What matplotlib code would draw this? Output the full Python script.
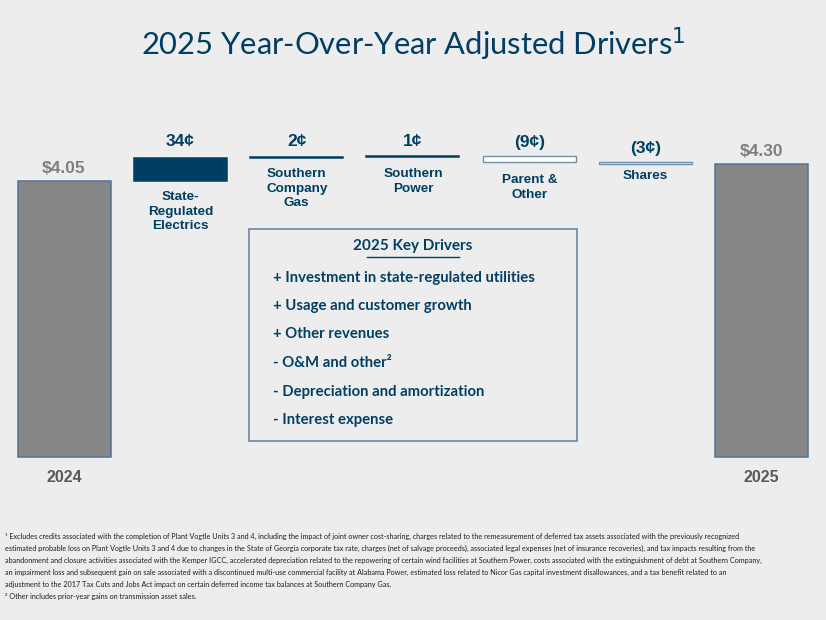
import numpy as np
import matplotlib.pyplot as plt
from matplotlib.patches import Rectangle

# data ($ per share)
start_label = '2024'
end_label = '2025'
start_value = 4.05
end_value = 4.30
driver_names = ['State-\nRegulated\nElectrics', 'Southern\nCompany\nGas', 'Southern\nPower',
                'Parent &\nOther', 'Shares']
driver_values = [0.34, 0.02, 0.01, -0.09, -0.03]
driver_labels = ['34¢', '2¢', '1¢', '(9¢)', '(3¢)']

key_drivers = ['+ Investment in state-regulated utilities',
               '+ Usage and customer growth',
               '+ Other revenues',
               '- O&M and other²',
               '- Depreciation and amortization',
               '- Interest expense']

footnote1 = ('¹ Excludes credits associated with the completion of Plant Vogtle Units 3 and 4, including the impact of joint owner cost-sharing, charges related to the remeasurement of deferred tax assets associated with the previously recognized\n'
             'estimated probable loss on Plant Vogtle Units 3 and 4 due to changes in the State of Georgia corporate tax rate, charges (net of salvage proceeds), associated legal expenses (net of insurance recoveries), and tax impacts resulting from the\n'
             'abandonment and closure activities associated with the Kemper IGCC, accelerated depreciation related to the repowering of certain wind facilities at Southern Power, costs associated with the extinguishment of debt at Southern Company,\n'
             'an impairment loss and subsequent gain on sale associated with a discontinued multi-use commercial facility at Alabama Power, estimated loss related to Nicor Gas capital investment disallowances, and a tax benefit related to an\n'
             'adjustment to the 2017 Tax Cuts and Jobs Act impact on certain deferred income tax balances at Southern Company Gas.\n'
             '² Other includes prior-year gains on transmission asset sales.')

BG = '#EDEDED'
NAVY = '#003F63'
GRAY = '#878787'
EDGE = '#4F7599'

W, H = 826, 620
fig = plt.figure(figsize=(W / 100, H / 100), dpi=100, facecolor=BG)
ax = fig.add_axes([0, 0, 1, 1])
ax.set_facecolor(BG)
ax.axis('off')

step = 116.25
scale = 68.1
ax.set_xlim(-64 / step, (W - 64) / step)
ax.set_ylim(-(H - 457) / scale, 457 / scale)


def fx(px):
    return px / W


def fy(py):
    return 1 - py / H


sans = ['Liberation Sans', 'DejaVu Sans']
narrow = ['Liberation Sans Narrow', 'Liberation Sans', 'DejaVu Sans']
lato = ['Lato', 'DejaVu Sans']

# waterfall
n = len(driver_values)
x = np.arange(n + 2)
cum = start_value + np.cumsum(driver_values)
prev = np.concatenate([[start_value], cum[:-1]])
bottoms = np.minimum(prev, cum)
heights = np.abs(driver_values)

ax.bar([x[0], x[-1]], [start_value, end_value], width=0.8, color=GRAY,
       edgecolor=EDGE, linewidth=1.1)
for i in range(n):
    pos = driver_values[i] > 0
    ax.bar(x[i + 1], heights[i], bottom=bottoms[i], width=0.8,
           color=NAVY if pos else 'white',
           edgecolor=NAVY if pos else '#6F8FAE', linewidth=1.1 if pos else 1.0)

# value labels
ax.text(x[0], start_value + 0.08, f'${start_value:.2f}', ha='center', va='bottom',
        fontsize=12.5, fontweight='bold', color='#7F7F7F', family=sans)
ax.text(x[-1], end_value + 0.08, f'${end_value:.2f}', ha='center', va='bottom',
        fontsize=12.5, fontweight='bold', color='#7F7F7F', family=sans)
top_label_y = [142, 142, 142, 142, 149]
name_y = [199, 176, 176, 182, 178]
for i in range(n):
    fig.text(fx(180.5 + i * step), fy(top_label_y[i]), driver_labels[i], ha='center', va='center',
             fontsize=12.5, fontweight='bold', color=NAVY, family=sans)
    fig.text(fx(180.5 + i * step), fy(name_y[i] - 8), driver_names[i], ha='center', va='top',
             fontsize=9.7, fontweight='bold', color=NAVY, family=sans, linespacing=1.3)

for xi, lab in [(x[0], start_label), (x[-1], end_label)]:
    fig.text(fx(64 + xi * step), fy(478), lab, ha='center', va='center',
             fontsize=11.5, fontweight='bold', color='#595959', family=narrow)

# title
fig.text(0.5, fy(44), '2025 Year-Over-Year Adjusted Drivers$^{1}$', ha='center', va='center',
         fontsize=22.2, color=NAVY, family=lato)

# key drivers box
fig.patches.append(Rectangle((fx(249), fy(441)), fx(577) - fx(249), fy(229) - fy(441),
                             transform=fig.transFigure, facecolor=BG, edgecolor='#6A88A4',
                             linewidth=1.2))
fig.text(fx(413), fy(246), '2025 Key Drivers', ha='center', va='center',
         fontsize=11, fontweight='bold', color=NAVY, family=lato)
fig.add_artist(plt.Line2D([fx(367), fx(459)], [fy(257), fy(257)], color=NAVY, linewidth=1.0))
item_y = [278, 306, 334, 363, 392, 420]
for yy, txt in zip(item_y, key_drivers):
    fig.text(fx(273), fy(yy), txt, ha='left', va='center',
             fontsize=10.7, fontweight='bold', color=NAVY, family=lato)

# footnotes
fig.text(fx(5), fy(533), footnote1, ha='left', va='top', fontsize=5.2,
         color='#1F1F1F', family=lato, linespacing=1.82)

fig.savefig('out.png', dpi=100, facecolor=BG)
